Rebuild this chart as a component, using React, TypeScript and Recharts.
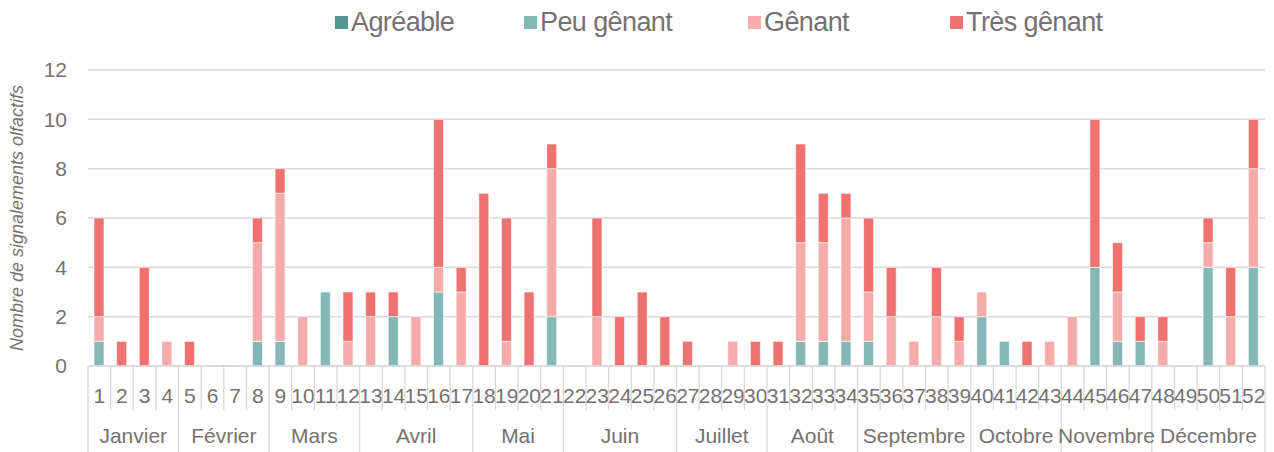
import React from "react";
import { BarChart, Bar, XAxis, YAxis, CartesianGrid, Legend } from "recharts";

const weeks = [
  "1", "2", "3", "4", "5", "6", "7", "8", "9", "10", "11", "12", "13",
  "14", "15", "16", "17", "18", "19", "20", "21", "22", "23", "24", "25", "26",
  "27", "28", "29", "30", "31", "32", "33", "34", "35", "36", "37", "38", "39",
  "40", "41", "42", "43", "44", "45", "46", "47", "48", "49", "50", "51", "52",
];

const monthNames = [
  "Janvier", "Février", "Mars", "Avril", "Mai", "Juin",
  "Juillet", "Août", "Septembre", "Octobre", "Novembre", "Décembre",
];
const monthWeekCounts = [4, 4, 4, 5, 4, 5, 4, 4, 5, 4, 4, 5];

const agreable = [
  0, 0, 0, 0, 0, 0, 0, 0, 0, 0, 0, 0, 0, 0, 0, 0, 0, 0, 0, 0, 0, 0, 0, 0, 0, 0,
  0, 0, 0, 0, 0, 0, 0, 0, 0, 0, 0, 0, 0, 0, 0, 0, 0, 0, 0, 0, 0, 0, 0, 0, 0, 0,
];
const peuGenant = [
  1, 0, 0, 0, 0, 0, 0, 1, 1, 0, 3, 0, 0, 2, 0, 3, 0, 0, 0, 0, 2, 0, 0, 0, 0, 0,
  0, 0, 0, 0, 0, 1, 1, 1, 1, 0, 0, 0, 0, 2, 1, 0, 0, 0, 4, 1, 1, 0, 0, 4, 0, 4,
];
const genant = [
  1, 0, 0, 1, 0, 0, 0, 4, 6, 2, 0, 1, 2, 0, 2, 1, 3, 0, 1, 0, 6, 0, 2, 0, 0, 0,
  0, 0, 1, 0, 0, 4, 4, 5, 2, 2, 1, 2, 1, 1, 0, 0, 1, 2, 0, 2, 0, 1, 0, 1, 2, 4,
];
const tresGenant = [
  4, 1, 4, 0, 1, 0, 0, 1, 1, 0, 0, 2, 1, 1, 0, 6, 1, 7, 5, 3, 1, 0, 4, 2, 3, 2,
  1, 0, 0, 1, 1, 4, 2, 1, 3, 2, 0, 2, 1, 0, 0, 1, 0, 0, 6, 2, 1, 1, 0, 1, 2, 2,
];

const yTicks = [0, 2, 4, 6, 8, 10, 12];

const series = [
  { key: "agreable", name: "Agréable", color: "#559592" },
  { key: "peuGenant", name: "Peu gênant", color: "#84b8b7" },
  { key: "genant", name: "Gênant", color: "#f5abaa" },
  { key: "tresGenant", name: "Très gênant", color: "#ef7270" },
];

const data = weeks.map((w, i) => ({
  week: w,
  agreable: agreable[i],
  peuGenant: peuGenant[i],
  genant: genant[i],
  tresGenant: tresGenant[i],
}));

// index of first week of each month
const monthStarts: number[] = [];
monthWeekCounts.reduce((acc, n) => {
  monthStarts.push(acc);
  return acc + n;
}, 0);

const FONT = "'Liberation Sans Narrow', 'Arial Narrow', 'Liberation Sans', sans-serif";
const TEXT = "#767171";
const LINE = "#d9d9d9";

// legend slot widths, so the squares sit where the original has them
const legendSlots = [189, 224, 202, 200];

const WeekTick = (props: any) => {
  const { x, y, payload, index } = props;
  const half = payload.offset || 11.3;
  const isStart = monthStarts.includes(index);
  const isLast = index === weeks.length - 1;
  return (
    <g>
      <line x1={x - half} x2={x - half} y1={y} y2={isStart ? y + 86 : y + 44} stroke={LINE} strokeWidth={1.3} />
      {isLast && (
        <line x1={x + half} x2={x + half} y1={y} y2={y + 86} stroke={LINE} strokeWidth={1.3} />
      )}
      <text x={x} y={y + 31} textAnchor="middle" dominantBaseline="middle" fill={TEXT} fontSize={21} fontFamily={FONT}>
        {payload.value}
      </text>
    </g>
  );
};

const MonthTick = (props: any) => {
  const { x, y, payload, index } = props;
  const m = monthStarts.indexOf(index);
  if (m < 0) return null;
  const half = payload.offset || 11.3;
  const cx = x - half + monthWeekCounts[m] * half;
  return (
    <text x={cx} y={y + 27} textAnchor="middle" dominantBaseline="middle" fill={TEXT} fontSize={21} fontFamily={FONT}>
      {monthNames[m]}
    </text>
  );
};

const LegendContent = () => (
  <div style={{ display: "flex", alignItems: "center", height: 44, paddingLeft: 335 }}>
    {series.map((s, i) => (
      <div key={s.key} style={{ display: "flex", alignItems: "center", width: legendSlots[i] }}>
        <span style={{ display: "inline-block", width: 13, height: 13, background: s.color, marginRight: 3 }} />
        <span style={{ fontFamily: FONT, fontSize: 27, letterSpacing: -0.6, color: TEXT, whiteSpace: "nowrap" }}>
          {s.name}
        </span>
      </div>
    ))}
  </div>
);

export default function App() {
  return (
    <div style={{ position: "absolute", left: 0, top: 0, background: "#fff" }}>
      <BarChart
        width={1274}
        height={452}
        data={data}
        margin={{ top: 26, right: 9, left: 0, bottom: 0 }}
        barSize={10}
      >
        <CartesianGrid horizontal vertical={false} stroke={LINE} strokeWidth={1.5} />
        <Legend
          verticalAlign="top"
          align="center"
          content={<LegendContent />}
          wrapperStyle={{ top: 0, left: 0, width: 1274, height: 44 }}
        />
        <XAxis
          dataKey="week"
          interval={0}
          height={44}
          tickSize={0}
          tickMargin={0}
          tickLine={false}
          axisLine={{ stroke: LINE, strokeWidth: 1.5 }}
          tick={<WeekTick />}
        />
        <XAxis
          xAxisId="month"
          dataKey="week"
          interval={0}
          height={42}
          tickSize={0}
          tickMargin={0}
          tickLine={false}
          axisLine={false}
          tick={<MonthTick />}
        />
        <YAxis
          width={88}
          domain={[0, 12]}
          ticks={yTicks}
          interval={0}
          tickSize={0}
          tickMargin={21}
          axisLine={false}
          tickLine={false}
          tick={{ fill: TEXT, fontSize: 21, fontFamily: FONT }}
          label={{
            value: "Nombre de signalements olfactifs",
            angle: -90,
            position: "insideLeft",
            offset: 17,
            style: { textAnchor: "middle", fill: TEXT, fontSize: 18, fontStyle: "italic", fontFamily: FONT },
          }}
        />
        {series.map((s) => (
          <Bar
            key={s.key}
            dataKey={s.key}
            name={s.name}
            stackId="a"
            fill={s.color}
            stroke="#ffffff"
            strokeWidth={0.6}
            isAnimationActive={false}
          />
        ))}
      </BarChart>
    </div>
  );
}
